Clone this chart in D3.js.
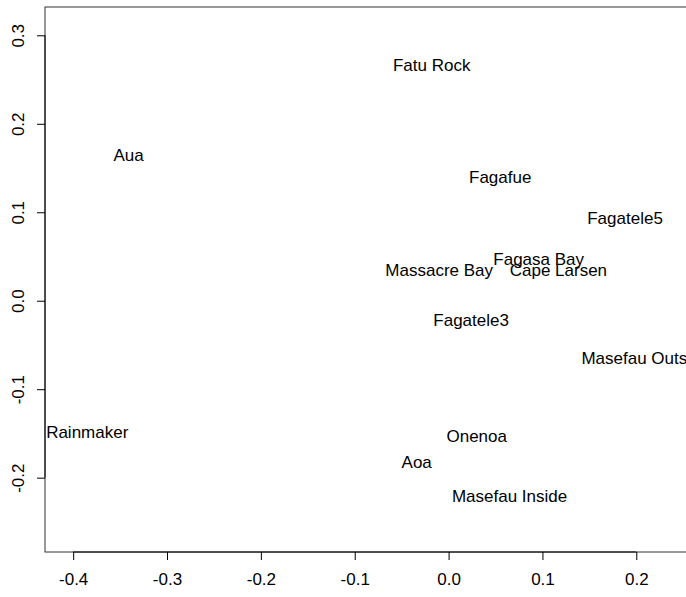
<!DOCTYPE html>
<html>
<head>
<meta charset="utf-8">
<script src="https://cdn.jsdelivr.net/npm/d3@7"></script>
<style>
  body { margin: 0; background: #fff; }
  text { font-family: "Liberation Sans", Arial, Helvetica, sans-serif; }
</style>
</head>
<body>
<script>
var svgWidth = 686;
var svgHeight = 597;

// site names and their ordination scores
var sites = ["Fatu Rock", "Aua", "Fagafue", "Fagatele5", "Fagasa Bay", "Massacre Bay",
  "Cape Larsen", "Fagatele3", "Masefau Outside", "Rainmaker", "Onenoa", "Aoa", "Masefau Inside"];
var axis1 = [-0.018, -0.341, 0.055, 0.188, 0.096, -0.010, 0.117, 0.024, 0.210, -0.385, 0.030, -0.034, 0.065];
var axis2 = [0.266, 0.165, 0.140, 0.093, 0.047, 0.035, 0.035, -0.022, -0.065, -0.148, -0.153, -0.182, -0.221];

var xTicks = [-0.4, -0.3, -0.2, -0.1, 0.0, 0.1, 0.2];
var yTicks = [-0.2, -0.1, 0.0, 0.1, 0.2, 0.3];

var plotLeft = 45, plotRight = 702, plotTop = 7, plotBottom = 552;

var svg = d3.select("body")
  .append("svg")
  .attr("width", svgWidth)
  .attr("height", svgHeight);

var x = d3.scaleLinear().domain([-0.43, 0.27]).range([plotLeft, plotRight]);
var y = d3.scaleLinear().domain([-0.284, 0.332]).range([plotBottom, plotTop]);

var fmt = function(d) { return d.toFixed(1); };

// box
svg.append("rect")
  .attr("x", plotLeft)
  .attr("y", plotTop)
  .attr("width", plotRight - plotLeft)
  .attr("height", plotBottom - plotTop)
  .attr("fill", "none")
  .attr("stroke", "#333")
  .attr("stroke-width", 1);

// bottom axis
var bottomAxis = d3.axisBottom(x).tickValues(xTicks).tickSize(8).tickFormat(fmt);
var gx = svg.append("g")
  .attr("transform", `translate(0, ${plotBottom})`)
  .call(bottomAxis);
gx.select(".domain").remove();
gx.selectAll("text")
  .attr("y", 21)
  .attr("dy", "0.71em")
  .style("font-size", "17px")
  .attr("fill", "#000");
gx.append("line")
  .attr("x1", x(xTicks[0])).attr("x2", x(xTicks[xTicks.length - 1]))
  .attr("stroke", "#000");

// left axis with rotated labels
var leftAxis = d3.axisLeft(y).tickValues(yTicks).tickSize(8).tickFormat(fmt);
var gy = svg.append("g")
  .attr("transform", `translate(${plotLeft}, 0)`)
  .call(leftAxis);
gy.select(".domain").remove();
gy.selectAll(".tick text")
  .attr("x", null)
  .attr("dy", null)
  .attr("text-anchor", "middle")
  .attr("transform", "translate(-21, 0) rotate(-90)")
  .style("font-size", "17px")
  .attr("fill", "#000");
gy.append("line")
  .attr("y1", y(yTicks[0])).attr("y2", y(yTicks[yTicks.length - 1]))
  .attr("stroke", "#000");

// site labels
svg.append("g")
  .selectAll("text")
  .data(sites)
  .enter()
  .append("text")
  .attr("x", function(d, i) { return x(axis1[i]); })
  .attr("y", function(d, i) { return y(axis2[i]); })
  .attr("dy", "0.35em")
  .attr("text-anchor", "middle")
  .style("font-size", "17px")
  .attr("fill", "#000")
  .text(function(d) { return d; });
</script>
</body>
</html>
